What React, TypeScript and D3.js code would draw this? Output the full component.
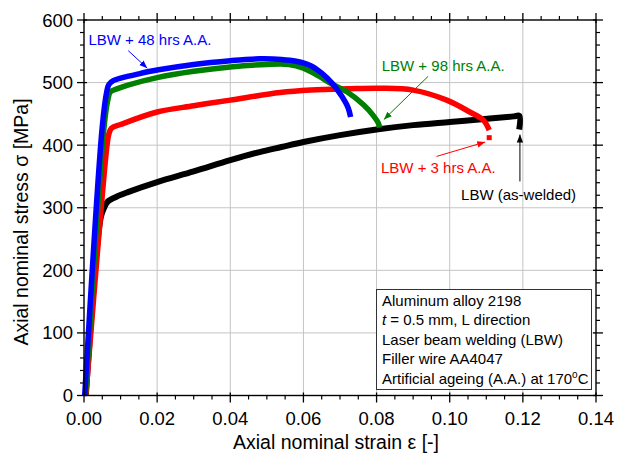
import React from "react";
import * as d3 from "d3";

type P = [number, number];

const xTicks = [0, 0.02, 0.04, 0.06, 0.08, 0.1, 0.12, 0.14];
const yTicks = [0, 100, 200, 300, 400, 500, 600];

const blue48: P[] = [
  [0.0002, 0], [0.005, 430], [0.0062, 485], [0.0068, 497], [0.008, 503], [0.01, 507],
  [0.015, 514], [0.02, 520], [0.03, 529], [0.04, 535], [0.048, 538], [0.054, 537],
  [0.058, 534], [0.062, 527], [0.065, 515], [0.068, 498], [0.0705, 478], [0.0722, 460], [0.0729, 445],
];
const green98: P[] = [
  [0.0004, 0], [0.0055, 430], [0.0065, 472], [0.0072, 485], [0.009, 490], [0.012, 496],
  [0.02, 508], [0.03, 518], [0.04, 525], [0.05, 529], [0.056, 529], [0.06, 523],
  [0.064, 511], [0.068, 497], [0.072, 485], [0.0765, 464], [0.079, 448], [0.0805, 435], [0.0808, 428],
];
const red3: P[] = [
  [0.0005, 0], [0.0063, 400], [0.0068, 418], [0.0075, 427], [0.01, 433], [0.02, 453],
  [0.03, 463], [0.04, 472], [0.0536, 484], [0.0621, 488], [0.072, 490], [0.081, 491],
  [0.09, 488], [0.0992, 472], [0.1055, 453], [0.1092, 440], [0.1108, 424],
];
const red3Tail: P[] = [[0.1108, 412]];
const black0: P[] = [
  [0.0005, 0], [0.0046, 285], [0.0055, 300], [0.0065, 310], [0.009, 318], [0.012, 325],
  [0.02, 341], [0.03, 358], [0.04, 376], [0.048, 389], [0.054, 397], [0.06, 405],
  [0.07, 416], [0.08, 425], [0.09, 432], [0.1, 437], [0.108, 441], [0.1175, 446],
  [0.119, 447], [0.119, 425],
];

const seriesColors = ["#0000ff", "#008000", "#ff0000", "#000000"];
const seriesNames = ["LBW + 48 hrs A.A.", "LBW + 98 hrs A.A.", "LBW + 3 hrs A.A.", "LBW (as-welded)"];

// annotation: label anchor (data), arrow start (data), arrow end (data)
const annLabel: P[] = [[0.0012, 560], [0.0814, 518], [0.0812, 355], [0.1031, 313]];
const annFrom: P[] = [[0.0121, 551], [0.0941, 510], [0.0964, 382], [0.1192, 342]];
const annTo: P[] = [[0.0173, 523], [0.0820, 441], [0.1097, 405], [0.1192, 417]];

const legendLines = [
  "Aluminum alloy 2198",
  "t = 0.5 mm, L direction",
  "Laser beam welding (LBW)",
  "Filler wire AA4047",
  "Artificial ageing (A.A.) at 170°C",
];

const W = 618, H = 463;
const M = { left: 84, right: 596, top: 20, bottom: 395.5 };
const FONT = "'Liberation Sans', Arial, sans-serif";

export default function App() {
  const x = d3.scaleLinear().domain([0, 0.14]).range([M.left, M.right]);
  const y = d3.scaleLinear().domain([0, 600]).range([M.bottom, M.top]);
  const line = d3.line<P>().x(d => x(d[0])).y(d => y(d[1])).curve(d3.curveCatmullRom.alpha(0.5));
  const xMinor = d3.range(0, 0.1401, 0.005).filter(v => Math.abs(v / 0.02 - Math.round(v / 0.02)) > 1e-6);
  const yMinor = d3.range(0, 601, 20).filter(v => v % 100 !== 0);
  const series = [black0, red3, green98, blue48];
  const order = [3, 2, 1, 0];
  const widths = [5.5, 5.5, 5.5, 6];

  return (
    <svg width={W} height={H} style={{ position: "absolute", left: 0, top: 0, background: "#fff" }} fontFamily={FONT}>
      <defs>
        {seriesColors.map((c, i) => (
          <marker key={i} id={`ah${i}`} viewBox="0 0 10 10" refX="10" refY="5" markerWidth="8" markerHeight="8" orient="auto" markerUnits="userSpaceOnUse">
            <path d="M0,1 L10,5 L0,9 Z" fill={c} />
          </marker>
        ))}
      </defs>
      {/* grid */}
      {xTicks.slice(1, -1).map(t => (
        <line key={"gx" + t} x1={x(t)} x2={x(t)} y1={M.top} y2={M.bottom} stroke="#c4c4c4" strokeWidth={1} />
      ))}
      {yTicks.slice(1, -1).map(t => (
        <line key={"gy" + t} x1={M.left} x2={M.right} y1={y(t)} y2={y(t)} stroke="#c4c4c4" strokeWidth={1} />
      ))}
      {/* curves */}
      {series.map((s, k) => {
        const i = order[k];
        return <path key={"s" + i} d={line(s) || ""} fill="none" stroke={seriesColors[i]} strokeWidth={widths[i]} strokeLinejoin="round" />;
      })}
      {red3Tail.map((d, i) => (
        <rect key={"rt" + i} x={x(d[0]) - 2.5} y={y(d[1]) - 2.5} width={5} height={5} fill="#ff0000" />
      ))}
      {/* annotations */}
      {seriesNames.map((n, i) => (
        <g key={"a" + i}>
          <text x={x(annLabel[i][0])} y={y(annLabel[i][1])} fontSize={15} fill={seriesColors[i]}>{n}</text>
          <line x1={x(annFrom[i][0])} y1={y(annFrom[i][1])} x2={x(annTo[i][0])} y2={y(annTo[i][1])}
            stroke={seriesColors[i]} strokeWidth={1} markerEnd={`url(#ah${i})`} />
        </g>
      ))}
      {/* frame */}
      <rect x={M.left} y={M.top} width={M.right - M.left} height={M.bottom - M.top} fill="none" stroke="#000" strokeWidth={1.4} />
      {/* ticks */}
      {xTicks.map(t => (
        <g key={"xt" + t}>
          <line x1={x(t)} x2={x(t)} y1={M.bottom - 3} y2={M.bottom + 7} stroke="#000" strokeWidth={1.3} />
          <line x1={x(t)} x2={x(t)} y1={M.top + 3} y2={M.top - 7} stroke="#000" strokeWidth={1.3} />
          <text x={x(t)} y={M.bottom + 29} fontSize={18.5} textAnchor="middle">{d3.format(".2f")(t)}</text>
        </g>
      ))}
      {xMinor.map(t => (
        <g key={"xm" + t}>
          <line x1={x(t)} x2={x(t)} y1={M.bottom} y2={M.bottom + 4} stroke="#000" strokeWidth={1.2} />
          <line x1={x(t)} x2={x(t)} y1={M.top} y2={M.top - 4} stroke="#000" strokeWidth={1.2} />
        </g>
      ))}
      {yTicks.map(t => (
        <g key={"yt" + t}>
          <line x1={M.left - 7} x2={M.left + 3} y1={y(t)} y2={y(t)} stroke="#000" strokeWidth={1.3} />
          <line x1={M.right - 3} x2={M.right + 7} y1={y(t)} y2={y(t)} stroke="#000" strokeWidth={1.3} />
          <text x={M.left - 11} y={y(t) + 6.5} fontSize={18.5} textAnchor="end">{t}</text>
        </g>
      ))}
      {yMinor.map(t => (
        <g key={"ym" + t}>
          <line x1={M.left - 4} x2={M.left} y1={y(t)} y2={y(t)} stroke="#000" strokeWidth={1.2} />
          <line x1={M.right} x2={M.right + 4} y1={y(t)} y2={y(t)} stroke="#000" strokeWidth={1.2} />
        </g>
      ))}
      {/* axis titles */}
      <text x={336} y={449} fontSize={19.5} textAnchor="middle">Axial nominal strain ε [-]</text>
      <text transform={`translate(28,222) rotate(-90)`} fontSize={19.5} textAnchor="middle">Axial nominal stress σ [MPa]</text>
      {/* info box */}
      <g>
        <rect x={376.5} y={289.5} width={215} height={100} fill="#fff" stroke="#333" strokeWidth={1} />
        {legendLines.map((l, i) => (
          <text key={"l" + i} x={382} y={306 + i * 19.4} fontSize={15}>
            {i === 1 ? (<><tspan fontStyle="italic">t</tspan>{l.slice(1)}</>) :
              i === 4 ? (<>{"Artificial ageing (A.A.) at 170"}<tspan dy={-6} fontSize={10}>o</tspan><tspan dy={6}>C</tspan></>) : l}
          </text>
        ))}
      </g>
    </svg>
  );
}
